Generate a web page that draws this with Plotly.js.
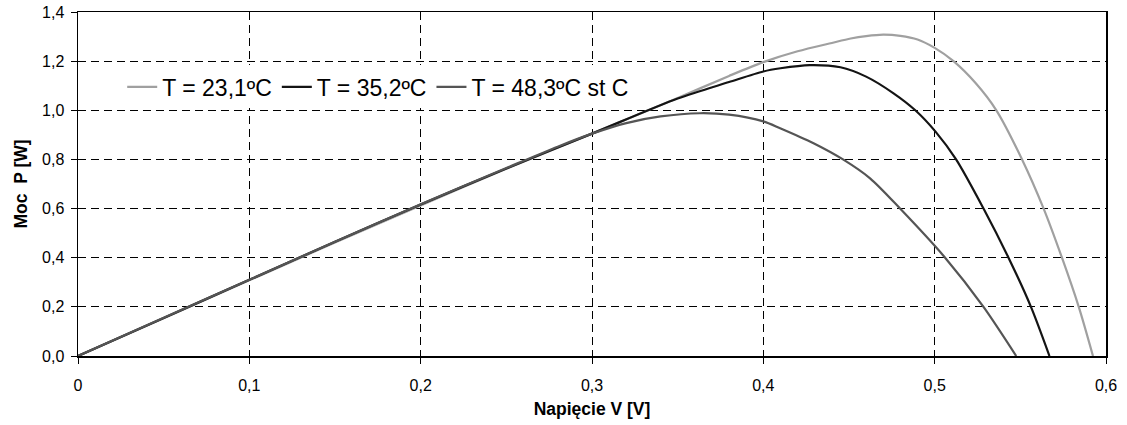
<!DOCTYPE html>
<html>
<head>
<meta charset="utf-8">
<script src="https://cdn.plot.ly/plotly-3.0.1.min.js"></script>
<style>html,body{margin:0;padding:0;background:#fff;}#chart{width:1127px;height:425px;}</style>
</head>
<body>
<div id="chart"></div>
<script>
// Series names
const seriesNames = ['T = 23,1ºC', 'T = 35,2ºC', 'T = 48,3ºC st C'];

// T = 23,1ºC
const v1 = [0, 0.05, 0.1, 0.15, 0.2, 0.25, 0.3, 0.35, 0.38, 0.40, 0.42, 0.44, 0.451, 0.46, 0.47, 0.48, 0.49, 0.50, 0.511, 0.524, 0.536, 0.551, 0.5636, 0.5743, 0.5841, 0.5924];
const p1 = [0, 0.154, 0.308, 0.462, 0.613, 0.762, 0.905, 1.050, 1.140, 1.196, 1.240, 1.274, 1.292, 1.302, 1.308, 1.303, 1.288, 1.254, 1.200, 1.110, 1.000, 0.800, 0.600, 0.400, 0.200, 0];

// T = 35,2ºC
const v2 = [0, 0.05, 0.1, 0.15, 0.2, 0.25, 0.3, 0.35, 0.38, 0.40, 0.41, 0.427, 0.445, 0.46, 0.476, 0.4887, 0.5005, 0.5125, 0.5285, 0.5431, 0.5562, 0.567];
const p2 = [0, 0.155, 0.31, 0.465, 0.617, 0.763, 0.905, 1.048, 1.115, 1.158, 1.171, 1.184, 1.175, 1.137, 1.069, 1.000, 0.913, 0.800, 0.600, 0.400, 0.200, 0];

// T = 48,3ºC
const v3 = [0, 0.05, 0.1, 0.15, 0.2, 0.25, 0.28, 0.30, 0.32, 0.34, 0.363, 0.38, 0.40, 0.4098, 0.4293, 0.4465, 0.4623, 0.4798, 0.5061, 0.5285, 0.5476];
const p3 = [0, 0.156, 0.31, 0.465, 0.618, 0.765, 0.852, 0.905, 0.948, 0.975, 0.988, 0.982, 0.955, 0.927, 0.866, 0.800, 0.723, 0.600, 0.400, 0.200, 0];

// Tick values / labels
const xTickVals = [0, 0.1, 0.2, 0.3, 0.4, 0.5, 0.6];
const xTickText = ['0', '0,1', '0,2', '0,3', '0,4', '0,5', '0,6'];
const yTickVals = [0, 0.2, 0.4, 0.6, 0.8, 1.0, 1.2, 1.4];
const yTickText = ['0,0', '0,2', '0,4', '0,6', '0,8', '1,0', '1,2', '1,4'];

const colors = ['#a0a0a0', '#141414', '#555555'];
const xs = [v1, v2, v3];
const ys = [p1, p2, p3];

const traces = xs.map((x, i) => ({
  x: x, y: ys[i], name: seriesNames[i], type: 'scatter', mode: 'lines',
  line: {color: colors[i], width: 2.2, shape: 'spline', smoothing: 0.8}
}));

const font = 'Liberation Sans, Arial, sans-serif';
const layout = {
  width: 1127, height: 425,
  margin: {l: 78, r: 21, t: 12, b: 69},
  paper_bgcolor: '#fff', plot_bgcolor: '#fff',
  font: {family: font, color: '#000', size: 16},
  showlegend: true,
  legend: {
    orientation: 'h', x: 0.043, xanchor: 'left', y: 0.782, yanchor: 'middle',
    bgcolor: '#fff', borderwidth: 0, font: {family: font, size: 23, color: '#000'},
    itemwidth: 30
  },
  xaxis: {
    range: [0, 0.6], tickvals: xTickVals, ticktext: xTickText,
    showline: true, linecolor: '#000', linewidth: 1.5, mirror: true,
    ticks: 'outside', ticklen: 6, tickcolor: '#000', tickwidth: 1,
    showgrid: true, gridcolor: '#000', gridwidth: 1, griddash: '8px,5px',
    zeroline: false, ticklabelstandoff: 8,
    tickfont: {family: font, size: 16, color: '#000'},
    title: {text: 'Napięcie V [V]', font: {family: font, size: 17.5, weight: 700, color: '#000'}, standoff: 10}
  },
  yaxis: {
    range: [0, 1.4], tickvals: yTickVals, ticktext: yTickText,
    showline: true, linecolor: '#000', linewidth: 1.5, mirror: true,
    ticks: 'outside', ticklen: 6, tickcolor: '#000', tickwidth: 1,
    showgrid: true, gridcolor: '#000', gridwidth: 1, griddash: '8px,5px',
    zeroline: false, ticklabelstandoff: 3,
    tickfont: {family: font, size: 16, color: '#000'},
    title: {text: 'Moc\u00a0\u00a0P [W]', font: {family: font, size: 17.5, weight: 700, color: '#000'}, standoff: 10}
  }
};

Plotly.newPlot('chart', traces, layout, {staticPlot: true, displayModeBar: false});
</script>
</body>
</html>
